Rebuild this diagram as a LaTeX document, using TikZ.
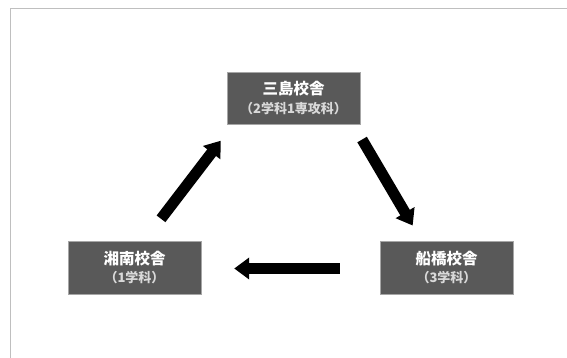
\documentclass[tikz,border=0pt]{standalone}
\usepackage{fontspec}
\newfontfamily\jp{Noto Sans CJK JP}
\usepackage{xcolor}
\usetikzlibrary{arrows.meta, positioning}

\begin{document}
\begin{tikzpicture}
  [
    x=1pt, y=-1pt,
    Box/.style={rectangle, draw=black!35, fill=black!65, text=white, font=\jp, minimum width=133pt, minimum height=52.5pt, inner sep=2pt, align=center},
    Fat/.style={draw, line width=11pt, -{Triangle[length=15pt, width=21pt]}}
  ]
  \useasboundingbox (0,0) rectangle (567,358);
  % Frame
  \draw[black!25] (10,358) -- (10,8.5) -- (567,8.5);

  % Nodes (x, y)
  \node[Box] (v0) at(293.5, 98) {{\bfseries\fontsize{15.5}{17}\selectfont 三島校舎}\\[4.5pt]
    {\bfseries\fontsize{13}{14}\selectfont\color{black!15}（2学科1専攻科）}};
  \node[Box] (v1) at(446.5, 267.5) {{\bfseries\fontsize{15.5}{17}\selectfont 船橋校舎}\\[4.5pt]
    {\bfseries\fontsize{13}{14}\selectfont\color{black!15}（3学科）}};
  \node[Box] (v2) at(134.5, 267.5) {{\bfseries\fontsize{15.5}{17}\selectfont 湘南校舎}\\[4.5pt]
    {\bfseries\fontsize{13}{14}\selectfont\color{black!15}（1学科）}};

  % Lines
  % Mishima -> Funabashi
  \path [Fat, shorten <=17.5pt, shorten >=18pt] ([xshift=-7pt]v0.south east) -- ([xshift=-24.7pt]v1.north);
  % Funabashi -> Shonan
  \path [Fat, shorten <=40pt, shorten >=33pt] ([yshift=-1pt]v1.west) -- ([yshift=-1pt]v2.east);
  % Shonan -> Mishima
  \path [Fat, shorten <=28pt, shorten >=20.5pt] ([xshift=9.5pt]v2.north) -- ([xshift=6.4pt]v0.south west);

\end{tikzpicture}
\end{document}
